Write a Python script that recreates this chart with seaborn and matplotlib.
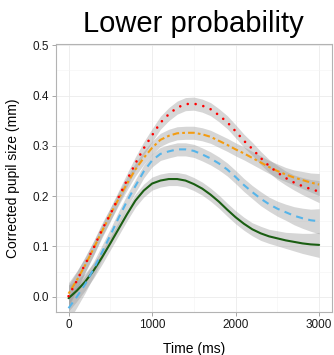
import matplotlib
matplotlib.use("Agg")
import matplotlib.pyplot as plt
import seaborn as sns
import pandas as pd
import numpy as np

# values (time in ms, corrected pupil size in mm)
time_ms = list(range(0, 3001, 100))

red_fit = [0.001, 0.032, 0.065, 0.097, 0.133, 0.164, 0.198, 0.232, 0.265, 0.295,
           0.321, 0.346, 0.363, 0.376, 0.383, 0.384, 0.380, 0.373, 0.361, 0.347,
           0.329, 0.310, 0.294, 0.276, 0.260, 0.247, 0.236, 0.227, 0.220, 0.214, 0.209]
orange_fit = [0.006, 0.033, 0.063, 0.096, 0.130, 0.163, 0.195, 0.225, 0.253, 0.276,
              0.296, 0.312, 0.320, 0.325, 0.326, 0.326, 0.323, 0.318, 0.310, 0.302,
              0.293, 0.285, 0.276, 0.267, 0.258, 0.250, 0.243, 0.237, 0.232, 0.227, 0.223]
blue_fit = [-0.023, 0.000, 0.025, 0.055, 0.088, 0.122, 0.157, 0.190, 0.220, 0.249,
            0.271, 0.284, 0.289, 0.293, 0.293, 0.290, 0.283, 0.275, 0.265, 0.253,
            0.238, 0.222, 0.208, 0.195, 0.184, 0.175, 0.168, 0.161, 0.156, 0.152, 0.150]
green_fit = [-0.003, 0.012, 0.030, 0.052, 0.078, 0.106, 0.135, 0.164, 0.191, 0.211,
             0.225, 0.231, 0.234, 0.234, 0.231, 0.224, 0.215, 0.203, 0.189, 0.173,
             0.158, 0.145, 0.134, 0.126, 0.120, 0.116, 0.112, 0.109, 0.106, 0.104, 0.103]

# half-width of the grey confidence ribbons
red_se = [0.022, 0.018, 0.015, 0.014, 0.013, 0.013, 0.013, 0.013, 0.013, 0.013,
          0.013, 0.013, 0.013, 0.013, 0.013, 0.013, 0.013, 0.013, 0.013, 0.013,
          0.013, 0.013, 0.013, 0.013, 0.013, 0.014, 0.014, 0.015, 0.017, 0.019, 0.022]
orange_se = red_se
blue_se = [0.026, 0.021, 0.017, 0.015, 0.014, 0.013, 0.013, 0.013, 0.013, 0.013,
           0.013, 0.013, 0.013, 0.013, 0.013, 0.013, 0.013, 0.013, 0.013, 0.013,
           0.013, 0.013, 0.013, 0.014, 0.014, 0.015, 0.016, 0.018, 0.020, 0.022, 0.025]
green_se = blue_se

sns.set_style("white")
plt.rcParams['font.family'] = ['Liberation Sans', 'DejaVu Sans']

fig = plt.figure(figsize=(3.34, 3.55), dpi=100)
ax = fig.add_axes([0.1677, 0.1211, 0.8253, 0.7541])

series = [
    ("green", green_fit, green_se, "#1A5E12", "-"),
    ("blue", blue_fit, blue_se, "#56B4E9", (0, (3.4, 2.6))),
    ("orange", orange_fit, orange_se, "#F39C12", (0, (1.3, 1.5, 3.2, 1.5))),
    ("red", red_fit, red_se, "#FF0000", (0, (0.01, 3.0))),
]

# ribbons first
for name, fit, se, col, ls in series:
    lo = np.array(fit) - np.array(se)
    hi = np.array(fit) + np.array(se)
    ax.fill_between(time_ms, lo, hi, color="#999999", alpha=0.4, linewidth=0, zorder=2)

for name, fit, se, col, ls in series:
    df = pd.DataFrame({"time": time_ms, "size": fit})
    kw = dict(color=col, linewidth=1.5, ax=ax, zorder=3)
    if name == "red":
        kw["dash_capstyle"] = "round"
        kw["linewidth"] = 1.9
    sns.lineplot(data=df, x="time", y="size", linestyle=ls, **kw)

ax.set_xlim(-150, 3150)
ax.set_ylim(-0.0305, 0.502)
ax.set_xticks([0, 1000, 2000, 3000])
ax.set_xticks([500, 1500, 2500], minor=True)
ax.set_yticks([0.0, 0.1, 0.2, 0.3, 0.4, 0.5])
ax.set_yticks([0.05, 0.15, 0.25, 0.35, 0.45], minor=True)
ax.set_yticklabels(["0.0", "0.1", "0.2", "0.3", "0.4", "0.5"])
ax.grid(which="major", color="#EBEBEB", linewidth=0.6, zorder=0)
ax.grid(which="minor", color="#F4F4F4", linewidth=0.4, zorder=0)
ax.set_axisbelow(True)
for s in ax.spines.values():
    s.set_color("#B3B3B3")
    s.set_linewidth(0.8)
ax.tick_params(which="major", length=3, width=0.6, color="#999999", labelsize=8.5,
               labelcolor="#1A1A1A", pad=2, bottom=True, left=True)
ax.tick_params(which="minor", length=0)

ax.set_xlabel("Time (ms)", fontsize=10, labelpad=8, color="black")
ax.set_ylabel("Corrected pupil size (mm)", fontsize=10, labelpad=9, color="black")
ax.set_title("Lower probability", fontsize=21, pad=9, color="black")

fig.savefig("out.png", dpi=100)
